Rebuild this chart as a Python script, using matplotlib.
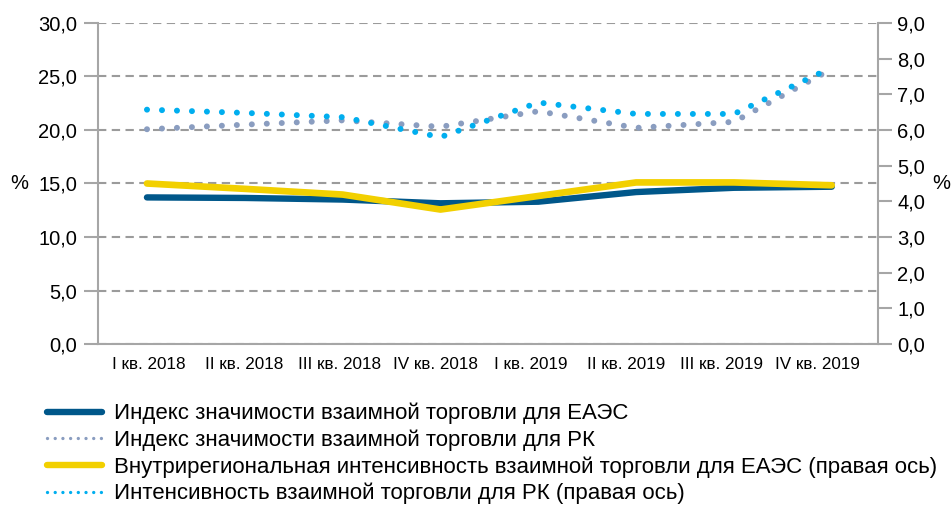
import matplotlib
matplotlib.use('Agg')
import matplotlib.pyplot as plt
from matplotlib.lines import Line2D

quarters = ['I кв. 2018', 'II кв. 2018', 'III кв. 2018', 'IV кв. 2018',
            'I кв. 2019', 'II кв. 2019', 'III кв. 2019', 'IV кв. 2019']
eaeu_index = [13.7, 13.65, 13.5, 13.15, 13.3, 14.2, 14.6, 14.7]
rk_index = [20.07, 20.5, 20.9, 20.3, 21.75, 20.2, 20.76, 25.7]
eaeu_intensity = [4.5, 4.35, 4.19, 3.77, 4.15, 4.53, 4.53, 4.45]
rk_intensity = [6.57, 6.48, 6.36, 5.8, 6.77, 6.45, 6.45, 7.75]

labels = ['Индекс значимости взаимной торговли для ЕАЭС',
          'Индекс значимости взаимной торговли для РК',
          'Внутрирегиональная интенсивность взаимной торговли для ЕАЭС (правая ось)',
          'Интенсивность взаимной торговли для РК (правая ось)']

DARK = '#00578a'
YELLOW = '#f2d000'
GRAYDOT = '#8a9dc0'
LIGHT = '#00aeef'
GRID = '#9b9b9b'
SPINE = '#a6a6a6'

plt.rcParams['font.family'] = ['Liberation Sans', 'DejaVu Sans']

fig = plt.figure(figsize=(9.52, 5.14), dpi=100)
ax = fig.add_axes([0.103, 0.3307, 0.819, 0.6246])
ax2 = ax.twinx()

x = list(range(len(quarters)))

ax.plot(x, rk_index, color=GRAYDOT, lw=4.3, dashes=(0.01, 2.5),
        dash_capstyle='round')
ax.plot(x, eaeu_index, color=DARK, lw=4.6, solid_capstyle='round')
ax2.plot(x, eaeu_intensity, color=YELLOW, lw=4.8, solid_capstyle='round')
ax2.plot(x, rk_intensity, color=LIGHT, lw=4.3, dashes=(0.01, 2.5),
         dash_capstyle='round')

ax.set_xlim(-0.5, 7.47)
ax.set_ylim(0, 30)
ax2.set_ylim(0, 9)
ax.set_yticks(range(0, 31, 5))
ax.set_yticklabels([f'{v:.1f}'.replace('.', ',') for v in range(0, 31, 5)])
ax2.set_yticks(range(0, 10))
ax2.set_yticklabels([f'{v:.1f}'.replace('.', ',') for v in range(0, 10)])
# category labels sit a little tighter than the data points
ax.set_xticks([i * 0.976 + 0.02 for i in x])
ax.set_xticklabels(quarters, fontsize=12.3)

ax.grid(axis='y', color=GRID, lw=1.5, dashes=(4, 2.6))
ax.set_axisbelow(True)

for a in (ax, ax2):
    a.spines['top'].set_visible(False)
    for s in ('left', 'right', 'bottom'):
        a.spines[s].set_color(SPINE)
        a.spines[s].set_linewidth(1.5)
ax.spines['right'].set_visible(False)
ax2.spines['left'].set_visible(False)
ax2.spines['bottom'].set_visible(False)

ax.tick_params(axis='y', length=10, width=1.5, color=SPINE, labelsize=14.5, pad=5)
ax2.tick_params(axis='y', length=10, width=1.5, color=SPINE, labelsize=14.5, pad=4)
ax.tick_params(axis='x', length=0, pad=9)

ax.set_ylabel('%', rotation=0, fontsize=14.5, va='center', ha='center')
ax.yaxis.set_label_coords(-0.101, 0.5)
ax2.set_ylabel('%', rotation=0, fontsize=14.5, va='center', ha='center')
ax2.yaxis.set_label_coords(1.081, 0.5)

handles = [
    Line2D([], [], color=DARK, lw=4.6, solid_capstyle='round'),
    Line2D([], [], color=GRAYDOT, lw=2.4, dashes=(0.01, 2.3), dash_capstyle='round'),
    Line2D([], [], color=YELLOW, lw=4.6, solid_capstyle='round'),
    Line2D([], [], color=LIGHT, lw=2.4, dashes=(0.01, 2.3), dash_capstyle='round'),
]
fig.legend(handles, labels, loc='upper left', bbox_to_anchor=(0.049, 0.216),
           frameon=False, fontsize=16, handlelength=2.5, handletextpad=0.55,
           labelspacing=0.23, borderaxespad=0, borderpad=0)

fig.savefig('out.png', dpi=100)
